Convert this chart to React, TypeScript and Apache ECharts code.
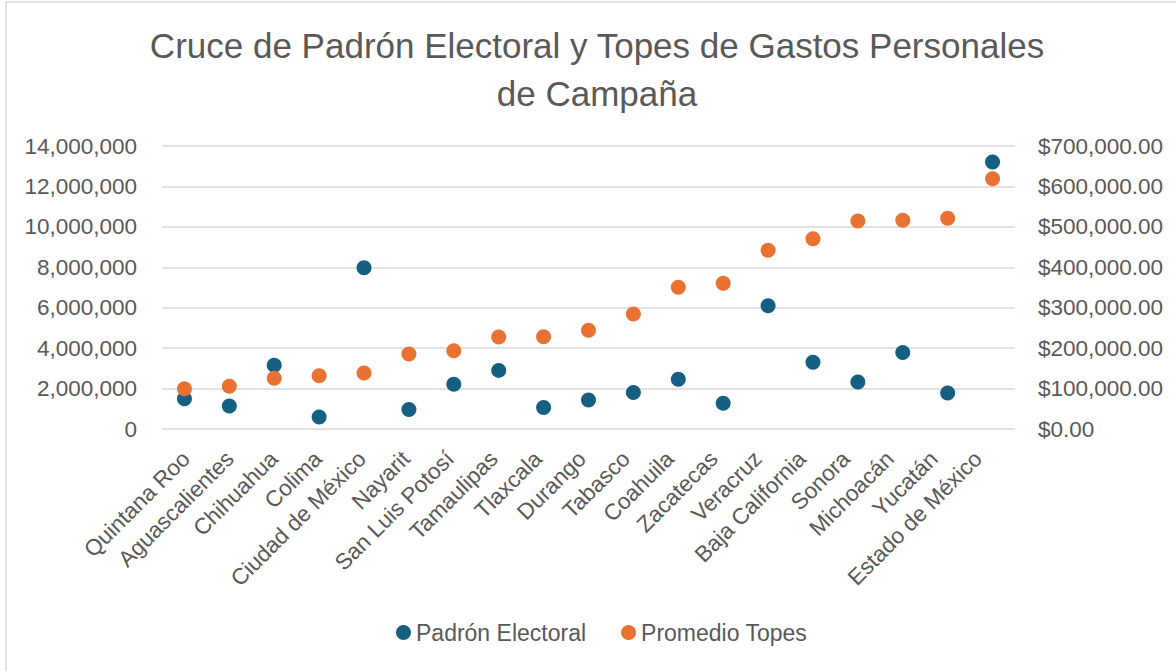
import React, { useEffect, useRef } from "react";
import * as echarts from "echarts";

const categories = [
  "Quintana Roo", "Aguascalientes", "Chihuahua", "Colima", "Ciudad de México",
  "Nayarit", "San Luis Potosí", "Tamaulipas", "Tlaxcala", "Durango", "Tabasco",
  "Coahuila", "Zacatecas", "Veracruz", "Baja California", "Sonora", "Michoacán",
  "Yucatán", "Estado de México",
];

const padronElectoral = [
  1500000, 1140000, 3150000, 590000, 7980000, 970000, 2210000, 2900000, 1060000,
  1430000, 1810000, 2460000, 1270000, 6100000, 3300000, 2330000, 3790000, 1780000,
  13210000,
];

const promedioTopes = [
  99700, 105600, 125400, 131900, 138500, 185500, 193700, 227600, 228300, 244100,
  284500, 350500, 360400, 442000, 470700, 514500, 516200, 521200, 619100,
];

const leftTicks = { min: 0, max: 14000000, interval: 2000000 };
const rightTicks = { min: 0, max: 700000, interval: 100000 };

const FONT = "'Liberation Sans', Arial, sans-serif";
const GRAY = "#595959";

export default function App() {
  const ref = useRef<HTMLDivElement>(null);
  useEffect(() => {
    if (!ref.current) return;
    const chart = echarts.init(ref.current, null, { renderer: "svg" });
    chart.setOption({
      animation: false,
      backgroundColor: "#ffffff",
      textStyle: { fontFamily: FONT },
      graphic: [
        {
          type: "rect",
          shape: { x: 6, y: 2, width: 1300, height: 800 },
          style: { fill: "none", stroke: "#d9d9d9", lineWidth: 1.5 },
          silent: true,
        },
      ],
      title: {
        text: "Cruce de Padrón Electoral y Topes de Gastos Personales\nde Campaña",
        left: 592,
        top: 16,
        textAlign: "center",
        textStyle: {
          fontFamily: FONT,
          fontSize: 35,
          fontWeight: "normal",
          color: GRAY,
          lineHeight: 48,
        },
      },
      legend: {
        data: ["Padrón Electoral", "Promedio Topes"],
        left: 391,
        top: 616,
        icon: "circle",
        itemWidth: 15,
        itemHeight: 15,
        itemGap: 35,
        textStyle: { fontFamily: FONT, fontSize: 23, color: GRAY },
      },
      grid: [
        { left: 162, right: 161, top: 146, bottom: 242, containLabel: false },
        { left: 164, right: 176, top: 146, bottom: 242, containLabel: false },
      ],
      xAxis: [
        {
          type: "category",
          gridIndex: 0,
          data: categories,
          boundaryGap: true,
          axisLine: { show: false },
          axisTick: { show: false },
          axisLabel: { show: false },
        },
        {
          type: "category",
          gridIndex: 1,
          data: categories,
          boundaryGap: true,
          axisLine: { show: false },
          axisTick: { show: false },
          splitLine: { show: false },
          axisLabel: {
            rotate: 45,
            interval: 0,
            margin: 26,
            fontFamily: FONT,
            fontSize: 22.5,
            color: GRAY,
          },
        },
      ],
      yAxis: [
        {
          type: "value",
          gridIndex: 0,
          min: leftTicks.min,
          max: leftTicks.max,
          interval: leftTicks.interval,
          axisLine: { show: false },
          axisTick: { show: false },
          splitLine: { lineStyle: { color: "#d9d9d9", width: 1.5 } },
          axisLabel: {
            fontFamily: FONT,
            fontSize: 22.5,
            color: GRAY,
            margin: 25,
            formatter: (v: number) => v.toLocaleString("en-US"),
          },
        },
        {
          type: "value",
          gridIndex: 0,
          position: "right",
          min: rightTicks.min,
          max: rightTicks.max,
          interval: rightTicks.interval,
          axisLine: { show: false },
          axisTick: { show: false },
          splitLine: { show: false },
          axisLabel: {
            fontFamily: FONT,
            fontSize: 22.5,
            color: GRAY,
            margin: 23,
            formatter: (v: number) =>
              "$" + v.toLocaleString("en-US", { minimumFractionDigits: 2, maximumFractionDigits: 2 }),
          },
        },
        {
          type: "value",
          gridIndex: 1,
          min: 0,
          max: 1,
          show: false,
          splitLine: { show: false },
        },
      ],
      series: [
        {
          name: "Padrón Electoral",
          type: "scatter",
          xAxisIndex: 0,
          yAxisIndex: 0,
          data: padronElectoral,
          symbolSize: 15,
          itemStyle: { color: "#156082", opacity: 1 },
        },
        {
          name: "Promedio Topes",
          type: "scatter",
          xAxisIndex: 0,
          yAxisIndex: 1,
          data: promedioTopes,
          symbolSize: 15,
          itemStyle: { color: "#E97132", opacity: 1 },
        },
      ],
    });
    return () => chart.dispose();
  }, []);
  return (
    <div
      ref={ref}
      style={{ position: "fixed", left: 0, top: 0, width: 1176, height: 671 }}
    />
  );
}
